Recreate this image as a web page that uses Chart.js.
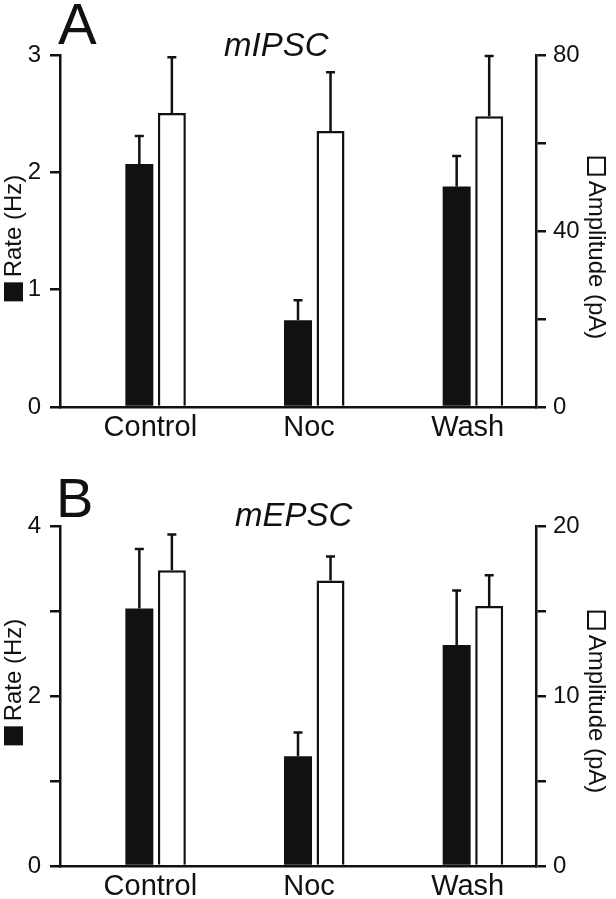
<!DOCTYPE html>
<html>
<head>
<meta charset="utf-8">
<script src="https://cdn.jsdelivr.net/npm/chart.js@4"></script>
<style>
  body { margin: 0; background: #fff; }
  #wrap { position: relative; width: 616px; height: 899px; font-family: 'Liberation Sans', Arial, sans-serif; color: #111; }
  canvas { position: absolute; left: 0; }
  .letter { position: absolute; font-size: 58px; line-height: 1; }
  .name { position: absolute; font-size: 33px; font-style: italic; line-height: 1; }
  .axt { position: absolute; font-size: 24px; line-height: 1; white-space: nowrap; }
  .axt.l { transform: translate(-50%, -50%) rotate(-90deg); }
  .axt.r { transform: translate(-50%, -50%) rotate(90deg); }
  .sq { display: inline-block; width: 19px; height: 19px; box-sizing: border-box; vertical-align: -2px; margin-right: 5px; }
  .sq.fill { background: #111; }
  .sq.open { border: 2.5px solid #111; background: #fff; }
</style>
</head>
<body>
<div id="wrap">
  <canvas id="chartA" width="616" height="450" style="top:0"></canvas>
  <canvas id="chartB" width="616" height="449" style="top:450px"></canvas>
  <div class="letter" style="left:58px;top:-5px">A</div>
  <div class="name" style="left:224px;top:28px">mIPSC</div>
  <div class="axt l" style="left:13px;top:238px"><span class="sq fill"></span>Rate (Hz)</div>
  <div class="axt r" style="left:597px;top:248px"><span class="sq open"></span>Amplitude (pA)</div>
  <div class="letter" style="left:56px;top:470px;font-size:56px">B</div>
  <div class="name" style="left:235px;top:498px">mEPSC</div>
  <div class="axt l" style="left:13px;top:682px"><span class="sq fill"></span>Rate (Hz)</div>
  <div class="axt r" style="left:597px;top:702px"><span class="sq open"></span>Amplitude (pA)</div>
</div>
<script>
var categories = ['Control', 'Noc', 'Wash'];

// A - mIPSC
var ipscRate = [2.07, 0.74, 1.88];
var ipscRateErr = [0.24, 0.17, 0.26];
var ipscAmp = [66.8, 62.7, 66.1];
var ipscAmpErr = [12.7, 13.4, 13.7];
var ipscRateTicks = [0, 1, 2, 3];
var ipscAmpTicks = [0, 40, 80];

// B - mEPSC
var epscRate = [3.03, 1.29, 2.6];
var epscRateErr = [0.70, 0.28, 0.64];
var epscAmp = [17.4, 16.8, 15.3];
var epscAmpErr = [2.1, 1.4, 1.8];
var epscRateTicks = [0, 2, 4];
var epscAmpTicks = [0, 10, 20];

var ink = '#111';
var fontFamily = "'Liberation Sans', Arial, sans-serif";
Chart.defaults.font.family = fontFamily;
Chart.defaults.color = ink;

// upward error bars with a small cap
var errorBars = {
  id: 'errorBars',
  afterDatasetsDraw: function (chart) {
    var ctx = chart.ctx;
    chart.data.datasets.forEach(function (ds, i) {
      if (!ds.errors) return;
      var meta = chart.getDatasetMeta(i);
      var scale = chart.scales[ds.yAxisID];
      ctx.save();
      ctx.strokeStyle = ink;
      ctx.lineWidth = 2.5;
      meta.data.forEach(function (bar, j) {
        var top = scale.getPixelForValue(ds.data[j] + ds.errors[j]);
        ctx.beginPath();
        ctx.moveTo(bar.x, bar.y);
        ctx.lineTo(bar.x, top);
        ctx.moveTo(bar.x - 4.5, top);
        ctx.lineTo(bar.x + 4.5, top);
        ctx.stroke();
      });
      ctx.restore();
    });
  }
};

function makeChart(id, p) {
  return new Chart(document.getElementById(id), {
    type: 'bar',
    data: {
      labels: categories,
      datasets: [
        // empty slot so the black bar sits on the category centre
        { label: '', data: [null, null, null], yAxisID: 'y' },
        { label: 'Rate', data: p.rate, errors: p.rateErr, yAxisID: 'y', backgroundColor: ink, borderWidth: 0 },
        { label: 'Amplitude', data: p.amp, errors: p.ampErr, yAxisID: 'y1', backgroundColor: '#fff', borderColor: ink, borderWidth: 2.5 }
      ]
    },
    options: {
      responsive: false,
      animation: false,
      categoryPercentage: 0.615,
      barPercentage: 0.86,
      layout: { padding: { top: p.top, left: 0, right: 0, bottom: 0 } },
      plugins: { legend: { display: false }, tooltip: { enabled: false } },
      scales: {
        x: {
          z: 1,
          offset: true,
          grid: { display: false, drawTicks: false },
          border: { color: ink, width: 2.5 },
          ticks: { font: { size: 29 }, padding: 4, labelOffset: 11, maxRotation: 0 },
          afterFit: function (s) { s.height = p.xHeight; }
        },
        y: {
          position: 'left',
          min: 0, max: p.rateMax,
          ticks: {
            stepSize: p.rateStep, font: { size: 24 }, padding: 9,
            callback: function (v) { return p.rateTicks.includes(v) ? v : ''; }
          },
          grid: { drawOnChartArea: false, color: ink, tickLength: 10, lineWidth: 2.5 },
          border: { color: ink, width: 2.5 },
          afterFit: function (s) { s.width = 60; }
        },
        y1: {
          position: 'right',
          min: 0, max: p.ampMax,
          ticks: {
            stepSize: p.ampStep, font: { size: 24 }, padding: 7,
            callback: function (v) { return p.ampTicks.includes(v) ? v : ''; }
          },
          grid: { drawOnChartArea: false, color: ink, tickLength: 10, lineWidth: 2.5 },
          border: { color: ink, width: 2.5 },
          afterFit: function (s) { s.width = 80; }
        }
      }
    },
    plugins: [errorBars]
  });
}

makeChart('chartA', {
  rate: ipscRate, rateErr: ipscRateErr, amp: ipscAmp, ampErr: ipscAmpErr,
  rateMax: 3, rateStep: 1, rateTicks: ipscRateTicks,
  ampMax: 80, ampStep: 20, ampTicks: ipscAmpTicks,
  top: 55, xHeight: 43
});

makeChart('chartB', {
  rate: epscRate, rateErr: epscRateErr, amp: epscAmp, ampErr: epscAmpErr,
  rateMax: 4, rateStep: 1, rateTicks: epscRateTicks,
  ampMax: 20, ampStep: 5, ampTicks: epscAmpTicks,
  top: 76, xHeight: 33
});
</script>
</body>
</html>
